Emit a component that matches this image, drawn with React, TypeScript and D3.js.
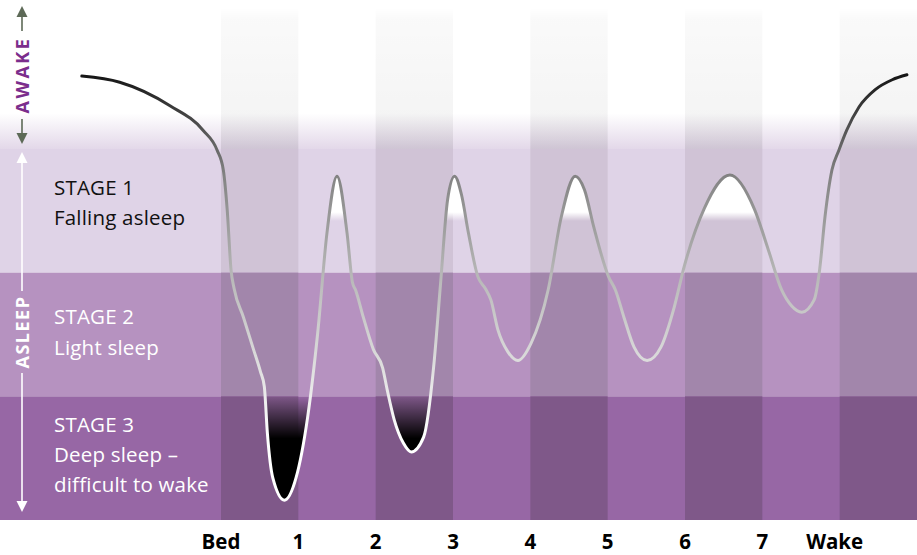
import React, { useEffect, useRef } from 'react';
import * as d3 from 'd3';

// x: hours after going to bed, tick labels sit on whole hours
const hourLabels = ['Bed', '1', '2', '3', '4', '5', '6', '7', 'Wake'];

// sleep curve
// hours after bed, and depth (0 = top of stage 1, 3 = bottom of stage 3, negative = awake)
const curveHours = [
  -1.8, -1.31, -0.66, -0.23, -0.05, 0.03, 0.08, 0.13, 0.17, 0.29, 0.42, 0.51, 0.56, 0.6, 0.67, 0.82,
  0.97, 1.12, 1.25, 1.37, 1.5, 1.63, 1.7, 1.74, 1.84, 1.97, 2.09, 2.15, 2.24, 2.36, 2.46,
  2.62, 2.75, 2.84, 2.93, 3.02, 3.11, 3.2, 3.32, 3.42, 3.49, 3.58, 3.71, 3.84,
  4.01, 4.23, 4.4, 4.58, 4.7, 4.82, 5.01, 5.1, 5.21, 5.34, 5.51,
  5.69, 5.86, 5.99, 6.25, 6.58, 6.9, 7.08, 7.25, 7.38, 7.51,
  7.67, 7.74, 7.81, 7.9, 7.99, 8.09, 8.25, 8.46, 8.68, 8.87,
];
const curveDepth = [
  -0.59, -0.54, -0.35, -0.15, 0.01, 0.17, 0.49, 0.98, 1.13, 1.36, 1.62, 1.8, 1.92, 2.3, 2.66, 2.84,
  2.66, 2.17, 1.49, 0.68, 0.22, 0.68, 1.08, 1.14, 1.36, 1.62, 1.77, 1.95, 2.19, 2.38, 2.45,
  2.33, 1.76, 1.08, 0.41, 0.22, 0.37, 0.68, 1.03, 1.13, 1.22, 1.46, 1.64, 1.71,
  1.57, 1.14, 0.55, 0.22, 0.33, 0.63, 1.03, 1.14, 1.36, 1.6, 1.71,
  1.6, 1.28, 0.95, 0.48, 0.21, 0.49, 0.82, 1.14, 1.27, 1.32,
  1.22, 0.98, 0.55, 0.17, 0.01, -0.15, -0.34, -0.48, -0.56, -0.6,
];

const stageTitles = ['STAGE 1', 'STAGE 2', 'STAGE 3'];
const stageNotes = [['Falling asleep'], ['Light sleep'], ['Deep sleep –', 'difficult to wake']];

const stageFill = ['#dfd3e7', '#b692c0', '#9767a5'];
const stageStripe = ['#d0c3d6', '#a286ab', '#7f5889'];
const FONT = '"Open Sans", "Noto Sans", sans-serif';

const SleepCycleChart: React.FC = () => {
  const svgRef = useRef<SVGSVGElement>(null);

  useEffect(() => {
    if (!svgRef.current) return;
    const width = 917;
    const height = 555;
    const svg = d3.select(svgRef.current);
    svg.selectAll('*').remove();
    svg.attr('width', width).attr('height', height).attr('viewBox', `0 0 ${width} ${height}`);

    const x = d3.scaleLinear().domain([0, 9]).range([221, 917]);
    const y = d3.scaleLinear().domain([0, 3]).range([149, 520]);
    const cols = d3.range(9);

    const defs = svg.append('defs');
    const vGrad = (id: string, y1: number, y2: number, stops: [number, string, number][]) => {
      const g = defs.append('linearGradient').attr('id', id)
        .attr('gradientUnits', 'userSpaceOnUse')
        .attr('x1', 0).attr('x2', 0).attr('y1', y1).attr('y2', y2);
      stops.forEach(([o, c, a]) => g.append('stop').attr('offset', o).attr('stop-color', c).attr('stop-opacity', a));
    };
    vGrad('awakeBg', 0, y(0), [[0, '#ffffff', 1], [0.76, '#ffffff', 1], [1, '#e3d8e9', 1]]);
    vGrad('awakeStripe', 8, y(0), [[0, '#000', 0], [0.08, '#000', 0.022], [0.75, '#000', 0.042], [1, '#000', 0.09]]);
    vGrad('lineGrad', 75, 500, [
      [0, '#151515', 1], [0.15, '#5e5e5e', 1], [0.24, '#848484', 1], [0.5, '#bdbdbd', 1],
      [0.72, '#e4e4e4', 1], [0.85, '#ffffff', 1], [1, '#ffffff', 1],
    ]);
    vGrad('peakGrad', 205, 221, [[0, '#fff', 1], [0.45, '#fff', 1], [1, '#fff', 0]]);
    vGrad('troughGrad', y(2), y(2) + 42, [[0, '#000', 0], [1, '#000', 1]]);

    // awake zone
    svg.append('rect').attr('x', 0).attr('y', 0).attr('width', width).attr('height', y(0)).attr('fill', 'url(#awakeBg)');
    svg.selectAll('rect.awake-col')
      .data(cols.filter(i => i % 2 === 0))
      .join('rect')
      .attr('class', 'awake-col')
      .attr('x', i => x(i)).attr('width', i => x(i + 1) - x(i))
      .attr('y', 8).attr('height', y(0) - 8)
      .attr('fill', 'url(#awakeStripe)');

    // stage bands with hour stripes
    [0, 1, 2].forEach(s => {
      svg.append('rect').attr('x', 0).attr('y', y(s)).attr('width', width).attr('height', y(s + 1) - y(s))
        .attr('fill', stageFill[s]);
      svg.append('g').selectAll('rect')
        .data(cols.filter(i => i % 2 === 0))
        .join('rect')
        .attr('x', i => x(i)).attr('width', i => x(i + 1) - x(i))
        .attr('y', y(s)).attr('height', y(s + 1) - y(s))
        .attr('fill', stageStripe[s]);
    });

    const pts: [number, number][] = curveHours.map((h, i) => [h, curveDepth[i]]);
    const line = d3.line<[number, number]>()
      .x(d => x(d[0]))
      .y(d => y(d[1]))
      .curve(d3.curveMonotoneX);
    const lineD = line(pts) as string;
    const x0 = x(curveHours[0]);
    const x1 = x(curveHours[curveHours.length - 1]);

    // white tips of the peaks (close to waking)
    defs.append('clipPath').attr('id', 'peakClip')
      .append('rect').attr('x', x(0.9)).attr('y', y(0)).attr('width', x(7.35) - x(0.9)).attr('height', 221 - y(0));
    svg.append('path')
      .attr('d', `${lineD}L${x1},${height}L${x0},${height}Z`)
      .attr('fill', 'url(#peakGrad)')
      .attr('clip-path', 'url(#peakClip)');

    // black bottoms of the deep sleep dips
    defs.append('clipPath').attr('id', 'troughClip')
      .append('rect').attr('x', x(0.3)).attr('y', y(2)).attr('width', x(3) - x(0.3)).attr('height', y(3) - y(2));
    svg.append('path')
      .attr('d', `${lineD}L${x1},0L${x0},0Z`)
      .attr('fill', 'url(#troughGrad)')
      .attr('clip-path', 'url(#troughClip)');

    svg.append('path')
      .attr('d', lineD)
      .attr('fill', 'none')
      .attr('stroke', 'url(#lineGrad)')
      .attr('stroke-width', 3)
      .attr('stroke-linecap', 'round');

    // stage labels
    const labelY = [[195, 225], [324, 355], [432, 462, 492]];
    [0, 1, 2].forEach(s => {
      const lines = [stageTitles[s], ...stageNotes[s]];
      svg.append('g').selectAll('text')
        .data(lines)
        .join('text')
        .attr('x', 54)
        .attr('y', (_, i) => labelY[s][i])
        .attr('font-family', FONT)
        .attr('font-size', 20.5)
        .attr('letter-spacing', 0.2)
        .attr('fill', s === 0 ? '#111' : '#fff')
        .text(d => d);
    });

    // hour axis
    svg.append('g').selectAll('text')
      .data(hourLabels)
      .join('text')
      .attr('x', (_, i) => x(i) - (i === 8 ? 5 : 0))
      .attr('y', 549)
      .attr('text-anchor', 'middle')
      .attr('font-family', FONT)
      .attr('font-weight', 700)
      .attr('font-size', 20.5)
      .attr('fill', '#000')
      .text(d => d);

    // left-hand AWAKE / ASLEEP arrows
    const ax = 22;
    const arrow = (g: d3.Selection<SVGGElement, unknown, null, undefined>, tipY: number, dir: number, color: string) => {
      g.append('path')
        .attr('d', `M${ax},${tipY}L${ax - 5.5},${tipY + dir * 11}L${ax + 5.5},${tipY + dir * 11}Z`)
        .attr('fill', color);
    };
    const seg = (g: d3.Selection<SVGGElement, unknown, null, undefined>, a: number, b: number, color: string) => {
      g.append('line').attr('x1', ax).attr('x2', ax).attr('y1', a).attr('y2', b)
        .attr('stroke', color).attr('stroke-width', 1.6);
    };
    const side = svg.append('g');
    const awakeCol = '#5d6a57';
    arrow(side, 6, 1, awakeCol);
    seg(side, 16, 31, awakeCol);
    seg(side, 119, 134, awakeCol);
    arrow(side, 144, -1, awakeCol);
    side.append('text')
      .attr('transform', `translate(${ax + 6.5},75) rotate(-90)`)
      .attr('text-anchor', 'middle')
      .attr('font-family', FONT).attr('font-weight', 700).attr('font-size', 18)
      .attr('letter-spacing', 2.5)
      .attr('fill', '#7b2d8c')
      .text('AWAKE');

    arrow(side, 152, 1, '#fff');
    seg(side, 162, 291, '#fff');
    seg(side, 373, 502, '#fff');
    arrow(side, 512, -1, '#fff');
    side.append('text')
      .attr('transform', `translate(${ax + 6.5},332) rotate(-90)`)
      .attr('text-anchor', 'middle')
      .attr('font-family', FONT).attr('font-weight', 700).attr('font-size', 18)
      .attr('letter-spacing', 1.5)
      .attr('fill', '#fff')
      .text('ASLEEP');
  }, []);

  return (
    <div style={{ position: 'absolute', left: 0, top: 0, background: '#fff' }}>
      <svg ref={svgRef} style={{ display: 'block' }}></svg>
    </div>
  );
};

export default function App() {
  return <SleepCycleChart />;
}
